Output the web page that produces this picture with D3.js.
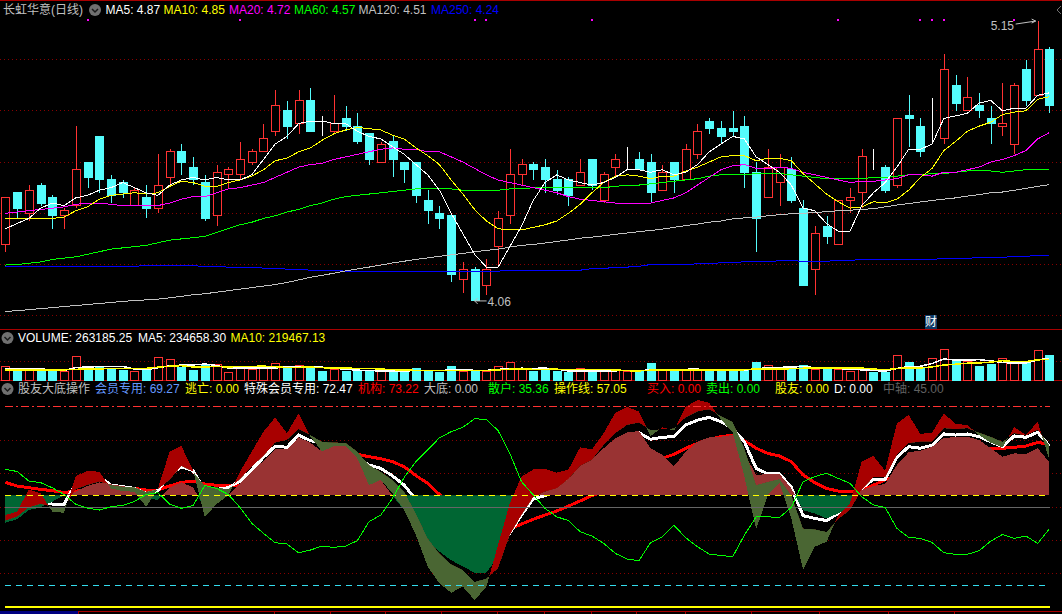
<!DOCTYPE html>
<html>
<head>
<meta charset="utf-8">
<script src="https://d3js.org/d3.v7.min.js"></script>
<style>
  html, body { margin: 0; padding: 0; background: #000; overflow: hidden; }
  text { font-family: "Liberation Sans", "Noto Sans CJK SC", sans-serif; font-size: 12px; }
</style>
</head>
<body>
<svg id="chart" width="1062" height="614" style="display:block"></svg>
<script>
// daily candles, one row of ten per line
var opens = [4.28,4.48,4.40,4.51,4.46,4.39,4.43,4.60,4.70,4.53,
  4.52,4.43,4.46,4.42,4.54,4.64,4.58,4.52,4.39,4.55,
  4.55,4.60,4.64,4.72,4.80,4.75,4.84,4.70,4.72,4.77,
  4.74,4.71,4.60,4.68,4.60,4.60,4.45,4.40,4.39,4.14,
  4.18,4.12,4.27,4.39,4.55,4.59,4.58,4.53,4.53,4.51,
  4.61,4.45,4.58,4.61,4.61,4.60,4.49,4.60,4.53,4.63,
  4.76,4.73,4.73,4.74,4.56,4.46,4.52,4.57,4.42,4.18,
  4.35,4.28,4.45,4.48,4.58,4.58,4.51,4.78,4.74,4.69,
  4.69,4.90,4.80,4.82,4.77,4.74,4.67,4.96,4.86,5.04];
var closes = [4.46,4.42,4.49,4.44,4.39,4.41,4.57,4.54,4.53,4.47,
  4.48,4.49,4.42,4.51,4.64,4.60,4.53,4.38,4.56,4.57,
  4.61,4.64,4.69,4.82,4.74,4.84,4.72,4.70,4.75,4.74,
  4.68,4.61,4.67,4.61,4.57,4.47,4.41,4.38,4.16,4.18,
  4.06,4.18,4.38,4.55,4.59,4.57,4.53,4.49,4.47,4.56,
  4.51,4.55,4.61,4.61,4.57,4.48,4.56,4.53,4.65,4.72,
  4.73,4.70,4.72,4.56,4.38,4.58,4.58,4.45,4.12,4.32,
  4.31,4.45,4.46,4.62,4.58,4.49,4.77,4.77,4.64,4.69,
  4.96,4.83,4.85,4.80,4.75,4.75,4.90,4.84,5.04,4.82];
var highs = [4.46,4.48,4.51,4.52,4.47,4.42,4.74,4.60,4.70,4.55,
  4.53,4.50,4.51,4.63,4.65,4.67,4.62,4.55,4.59,4.58,
  4.68,4.65,4.75,4.88,4.84,4.88,4.89,4.78,4.86,4.82,
  4.79,4.71,4.68,4.70,4.60,4.60,4.49,4.43,4.39,4.21,
  4.19,4.22,4.41,4.65,4.61,4.60,4.61,4.57,4.54,4.61,
  4.61,4.56,4.63,4.66,4.64,4.63,4.59,4.60,4.67,4.75,
  4.77,4.76,4.80,4.78,4.60,4.65,4.63,4.62,4.45,4.35,
  4.39,4.45,4.50,4.65,4.65,4.59,4.77,4.86,4.77,4.85,
  5.02,4.94,4.93,4.87,4.82,4.91,4.91,5.00,5.15,5.05];
var lows = [4.25,4.38,4.37,4.43,4.34,4.34,4.42,4.50,4.48,4.44,
  4.46,4.43,4.38,4.40,4.51,4.55,4.51,4.37,4.35,4.50,
  4.53,4.59,4.64,4.70,4.69,4.71,4.72,4.70,4.71,4.72,
  4.67,4.59,4.60,4.54,4.52,4.44,4.36,4.34,4.13,4.09,
  4.06,4.08,4.20,4.36,4.51,4.53,4.48,4.47,4.43,4.51,
  4.49,4.44,4.54,4.57,4.57,4.44,4.49,4.48,4.53,4.61,
  4.71,4.67,4.70,4.50,4.25,4.46,4.43,4.44,4.12,4.08,
  4.28,4.28,4.40,4.42,4.57,4.48,4.50,4.66,4.62,4.67,
  4.67,4.80,4.80,4.77,4.67,4.70,4.63,4.82,4.86,4.79];

// moving averages
var ma5 = [4.34,4.36,4.38,4.42,4.44,4.43,4.46,4.47,4.49,4.50,
  4.52,4.50,4.48,4.47,4.51,4.53,4.54,4.53,4.54,4.53,
  4.53,4.55,4.61,4.67,4.70,4.75,4.76,4.76,4.75,4.75,
  4.72,4.70,4.69,4.66,4.63,4.59,4.55,4.49,4.40,4.32,
  4.24,4.19,4.19,4.27,4.35,4.45,4.52,4.55,4.53,4.52,
  4.51,4.52,4.54,4.57,4.57,4.56,4.57,4.55,4.56,4.59,
  4.64,4.67,4.70,4.69,4.62,4.59,4.56,4.51,4.42,4.41,
  4.36,4.33,4.33,4.43,4.48,4.52,4.58,4.65,4.65,4.67,
  4.77,4.78,4.79,4.83,4.84,4.80,4.81,4.81,4.86,4.87];
var ma10 = [4.38,4.38,4.38,4.38,4.38,4.385,4.41,4.425,4.455,4.47,
  4.475,4.48,4.475,4.48,4.505,4.525,4.52,4.505,4.505,4.52,
  4.53,4.545,4.57,4.605,4.615,4.64,4.655,4.685,4.71,4.725,
  4.735,4.73,4.725,4.705,4.69,4.655,4.625,4.59,4.53,4.475,
  4.415,4.37,4.34,4.335,4.335,4.345,4.355,4.37,4.40,4.435,
  4.48,4.52,4.545,4.55,4.545,4.535,4.545,4.545,4.565,4.58,
  4.60,4.62,4.625,4.625,4.605,4.615,4.615,4.605,4.555,4.515,
  4.475,4.445,4.42,4.425,4.445,4.44,4.455,4.49,4.54,4.575,
  4.645,4.68,4.72,4.74,4.755,4.785,4.795,4.80,4.845,4.855];
var ma20 = [4.40,4.405,4.41,4.415,4.42,4.425,4.435,4.44,4.44,4.435,
  4.43,4.43,4.43,4.43,4.44,4.455,4.465,4.465,4.48,4.495,
  4.50,4.51,4.52,4.54,4.56,4.58,4.59,4.595,4.61,4.62,
  4.63,4.64,4.65,4.655,4.65,4.65,4.64,4.64,4.62,4.60,
  4.575,4.55,4.53,4.52,4.51,4.50,4.49,4.48,4.465,4.455,
  4.45,4.445,4.44,4.44,4.44,4.44,4.45,4.46,4.48,4.51,
  4.54,4.57,4.585,4.59,4.575,4.575,4.58,4.575,4.56,4.55,
  4.54,4.53,4.52,4.525,4.525,4.53,4.535,4.55,4.55,4.545,
  4.56,4.56,4.57,4.58,4.60,4.61,4.625,4.645,4.69,4.715];
var ma60 = [4.198,4.20,4.205,4.21,4.22,4.225,4.23,4.24,4.25,4.26,
  4.265,4.27,4.275,4.285,4.295,4.30,4.305,4.31,4.325,4.34,
  4.355,4.365,4.38,4.39,4.405,4.415,4.43,4.44,4.455,4.465,
  4.47,4.475,4.48,4.485,4.49,4.495,4.495,4.495,4.495,4.49,
  4.49,4.49,4.49,4.495,4.495,4.50,4.50,4.50,4.50,4.50,
  4.50,4.50,4.505,4.51,4.51,4.515,4.52,4.525,4.53,4.535,
  4.545,4.55,4.55,4.55,4.555,4.555,4.555,4.55,4.545,4.54,
  4.535,4.535,4.535,4.535,4.54,4.54,4.545,4.55,4.55,4.555,
  4.555,4.56,4.565,4.565,4.565,4.56,4.565,4.57,4.57,4.57];
var ma120 = [4.017,4.02,4.024,4.028,4.032,4.036,4.04,4.044,4.048,4.052,
  4.056,4.06,4.062,4.065,4.07,4.076,4.082,4.086,4.092,4.098,
  4.104,4.11,4.116,4.122,4.13,4.14,4.15,4.158,4.166,4.175,
  4.183,4.19,4.198,4.206,4.213,4.22,4.226,4.232,4.238,4.243,
  4.25,4.255,4.26,4.268,4.275,4.278,4.284,4.29,4.296,4.303,
  4.307,4.312,4.318,4.323,4.328,4.333,4.338,4.345,4.352,4.358,
  4.365,4.37,4.378,4.382,4.385,4.39,4.395,4.398,4.40,4.403,
  4.406,4.41,4.412,4.415,4.418,4.425,4.432,4.438,4.444,4.45,
  4.455,4.46,4.467,4.473,4.48,4.483,4.49,4.497,4.505,4.512];
var ma250 = [4.192,4.192,4.192,4.192,4.192,4.192,4.193,4.193,4.193,4.193,
  4.193,4.193,4.196,4.196,4.196,4.196,4.196,4.192,4.192,4.19,
  4.19,4.19,4.186,4.186,4.182,4.182,4.178,4.178,4.178,4.174,
  4.174,4.174,4.174,4.174,4.174,4.174,4.174,4.174,4.174,4.174,
  4.174,4.174,4.174,4.178,4.178,4.178,4.178,4.178,4.178,4.178,
  4.184,4.184,4.19,4.19,4.193,4.20,4.20,4.20,4.20,4.203,
  4.203,4.207,4.207,4.211,4.211,4.211,4.215,4.215,4.213,4.213,
  4.213,4.216,4.216,4.22,4.22,4.22,4.22,4.22,4.22,4.22,
  4.224,4.224,4.224,4.228,4.228,4.228,4.232,4.232,4.236,4.236];

// candles that carry the small magenta mark along the top
var markedDays = [7,20,40,41,50,71,78,79,80,86];
var priceTicks = [4.0,4.2,4.4,4.6,4.8,5.0];

// volume panel, in thousands
var volumes = [144,98,116,109,112,95,249,144,133,116,
  105,95,116,239,218,140,105,165,165,81,
  144,116,140,175,140,154,133,98,116,95,
  102,102,95,105,98,126,102,88,147,98,
  102,95,144,189,116,98,105,95,84,123,
  102,98,102,98,98,179,109,95,109,109,
  109,102,109,109,189,154,133,116,154,116,
  123,116,91,116,84,84,260,189,133,228,
  323,200,196,147,168,228,186,193,312,263.185];
var volMa5 = [123,120,122,120,116,106,136,142,147,147,
  149,119,113,134,155,162,164,173,159,131,
  132,134,129,131,143,145,148,140,128,119,
  109,103,102,100,100,105,105,104,112,112,
  107,106,117,126,129,128,130,121,100,101,
  102,100,102,105,100,115,117,116,118,120,
  106,105,108,108,124,133,139,140,149,135,
  128,125,120,112,106,98,127,147,150,179,
  227,215,216,219,207,188,185,184,217,234.658];
var volMa10 = [112,112,112,112,112,112,118,120,122,126,
  128,128,128,140,151,156,142,143,147,143,
  147,149,151,145,137,139,141,135,130,131,
  127,126,121,114,110,107,104,103,106,106,
  106,106,111,119,121,118,118,119,113,115,
  115,115,112,103,101,109,109,109,112,110,
  111,111,112,113,122,120,122,124,129,130,
  131,132,130,131,121,113,126,134,131,143,
  163,171,182,185,193,208,200,200,218,219.467];
var volTicks = [200];

// indicator panel: fast and slow make the red / olive band
var fastLine = [41.5,43.0,53.0,51.2,43.0,42.5,59.0,61.2,60.9,53.4,
  52.2,51.9,45.2,53.4,69.9,72.4,61.6,40.7,46.4,50.4,
  60.9,69.9,78.8,85.2,78.1,87.0,76.6,69.9,72.4,72.4,
  66.9,54.9,57.2,51.2,43.7,32.5,18.4,10.9,6.7,9.4,
  3.4,9.4,28.1,46.7,58.7,61.9,62.1,60.5,61.9,71.8,
  70.9,78.1,87.3,90.0,87.8,76.9,80.8,79.3,90.0,93.0,
  91.8,84.3,78.4,58.7,35.1,50.4,55.7,40.0,16.9,27.3,
  29.5,41.5,46.7,65.4,67.9,61.3,82.5,86.3,77.8,78.4,
  87.0,82.3,81.8,77.3,73.9,71.8,80.8,77.3,83.3,66.1];
var slowLine = [38.9,40.7,44.9,46.4,45.2,44.9,53.0,54.9,56.4,54.9,
  54.2,53.9,51.9,53.0,57.2,63.4,60.9,54.5,53.9,53.0,
  57.5,63.1,67.9,73.9,75.1,79.9,77.3,74.3,74.0,73.9,
  69.9,63.9,60.9,57.2,51.9,42.2,31.0,24.3,19.5,16.9,
  11.6,13.1,17.6,32.5,41.5,49.4,51.9,53.4,57.5,63.4,
  66.1,72.8,78.1,81.8,82.8,79.6,79.9,80.3,85.2,87.8,
  88.8,85.8,83.3,71.4,54.9,56.4,57.6,50.4,35.5,35.1,
  34.0,39.6,43.7,52.7,58.4,58.4,68.4,73.6,74.3,74.3,
  80.3,79.9,80.3,78.4,76.6,74.3,78.1,77.0,79.6,72.8];
var memberArea = [38.1,39.6,43.7,44.9,47.5,50.2,51.9,54.5,56.1,55.2,
  54.5,53.4,49.4,48.2,53.9,56.1,53.9,44.5,47.0,50.2,
  55.7,60.9,65.8,70.9,70.9,76.3,73.9,69.9,72.4,72.4,
  69.1,54.9,57.2,50.2,43.7,34.0,30.3,25.1,21.3,18.4,
  15.7,15.7,22.8,39.3,48.2,49.7,51.9,53.9,57.5,63.4,
  66.1,71.4,75.8,78.5,79.1,71.4,68.4,63.4,69.9,74.3,
  76.3,76.6,77.3,69.1,59.4,59.9,59.9,53.4,43.7,42.2,
  40.0,42.2,45.2,52.7,54.5,55.4,63.9,69.6,70.3,72.1,
  76.1,76.3,76.6,75.1,71.4,67.6,69.1,68.8,71.4,65.1];
var specialLine = [43.4,44.5,46.0,47.0,46.4,46.4,55.7,57.9,58.7,54.9,
  54.2,53.4,51.2,52.4,59.4,63.1,61.3,52.4,53.0,53.7,
  56.7,61.9,67.3,72.4,71.8,77.3,74.8,73.6,71.4,69.9,
  67.3,63.9,62.4,59.0,54.9,48.2,33.0,28.0,24.0,21.0,
  18.0,18.0,26.0,33.3,41.5,48.7,50.2,52.7,57.2,60.9,
  64.6,68.4,72.8,77.3,78.4,75.4,76.3,76.6,81.8,84.0,
  85.2,83.3,80.3,74.3,62.4,59.9,59.9,53.9,41.2,40.0,
  39.0,42.2,48.2,53.4,57.6,57.5,67.3,72.1,71.4,72.8,
  77.8,77.3,77.8,76.6,74.3,72.1,76.9,76.3,78.5,72.47];
var institutionLine = [56.1,54.5,53.7,53.0,52.4,51.6,52.2,52.7,53.0,53.4,
  53.6,53.4,52.7,52.7,54.5,56.1,56.7,55.4,54.8,54.5,
  54.9,57.2,60.2,63.1,65.4,67.3,68.7,69.4,69.9,69.4,
  68.7,67.6,66.7,65.4,63.1,59.1,55.7,50.7,45.2,41.5,
  37.8,34.0,33.3,35.1,37.5,39.6,41.5,43.3,45.5,47.8,
  50.2,51.9,54.9,58.4,61.6,63.9,66.9,68.7,71.4,73.6,
  75.4,76.6,77.3,74.8,71.4,69.1,67.9,65.4,59.4,56.0,
  53.4,52.2,51.9,52.7,54.9,57.2,59.4,63.1,66.1,68.4,
  69.9,70.6,71.1,71.4,71.4,71.4,71.8,72.4,74.0,73.22];
var retailLine = [61.9,61.0,56.7,56.0,53.7,50.7,46.3,44.6,43.7,45.2,
  45.8,47.6,50.7,51.5,46.4,44.5,45.7,54.8,53.4,50.7,
  44.9,37.8,33.3,29.1,28.5,24.6,25.8,27.6,27.0,27.6,
  30.0,38.5,41.5,49.0,58.4,65.4,70.6,76.1,78.8,80.8,
  84.6,84.3,79.3,69.1,56.4,50.5,44.5,40.7,39.0,34.0,
  32.1,28.8,24.3,21.8,21.0,29.1,31.8,36.9,31.3,27.3,
  24.0,23.4,22.8,32.5,40.7,40.7,40.4,44.9,56.4,58.7,
  60.2,57.9,55.7,49.7,46.0,44.9,35.5,31.5,31.0,29.2,
  24.6,23.9,23.9,25.5,29.8,32.8,31.0,32.1,28.8,35.36];
var indicatorTicks = [15.3,30,45,60,75];
var zeroLevel = 0, midLevel = 45, yellowLevel = 50.3, upperLevel = 90, lowerLevel = 10;

// month marks on the time strip, as candle positions
var monthTicks = [6.2,22.9,27.7,32.4,37.1,41.9,45.9,49.9,53.8,57.9,63.6,69.4,75.2,80.9];

// header texts
var stockTitle = "长虹华意(日线)";
var maLabels = ["MA5: 4.87","MA10: 4.85","MA20: 4.72","MA60: 4.57","MA120: 4.51","MA250: 4.24"];
var maColors = ["#ffffff","#ffff00","#ff00ff","#00ff00","#c0c0c0","#0000ff"];
var volLabels = ["VOLUME: 263185.25","MA5: 234658.30","MA10: 219467.13"];
var volColors = ["#ffffff","#ffffff","#ffff00"];
var indicatorLabels = ["股友大底操作","会员专用: 69.27","逃亡: 0.00","特殊会员专用: 72.47","机构: 73.22","大底: 0.00",
  "散户: 35.36","操作线: 57.05","买入: 0.00","卖出: 0.00","股友: 0.00","D: 0.00","中轴: 45.00"];
var indicatorColors = ["#c0c0c0","#6699ff","#ffff00","#ffffff","#ff0000","#c0c0c0",
  "#00ff00","#ffff00","#ff0000","#00ff00","#ffff00","#ffffff","#606060"];

var svg = d3.select("#chart");
var RED = "#ff3232", CYAN = "#54fcfc", GRID = "#880000", LINE_RED = "#a80000";

// all three panels share the same day scale
var xDay = d3.scaleLinear().domain([0, 89]).range([5.4, 1049.4]);
var yPrice = d3.scaleLinear().domain([4, 5]).range([315.8, 59.5]);
var yVol = d3.scaleLinear().domain([0, 200]).range([380.5, 361.5]);
var yInd = d3.scaleLinear().domain([45, 90]).range([507.2, 406.7]);
var days = d3.range(closes.length);

function px(i) { return Math.round(xDay(i)) + 0.5; }

// dotted grid comes from axes with long ticks, snapped to one pixel row
function dottedGrid(scale, ticks) {
  var g = svg.append("g")
    .call(d3.axisLeft(scale).offset(0).tickValues(ticks).tickSize(-1062).tickFormat(""));
  g.select(".domain").remove();
  g.selectAll(".tick")
    .attr("transform", function(d) { return "translate(0," + (Math.floor(scale(d)) + 0.5) + ")"; });
  g.selectAll(".tick line")
    .attr("stroke", GRID)
    .attr("stroke-dasharray", "1,3")
    .attr("shape-rendering", "crispEdges");
}
dottedGrid(yPrice, priceTicks);
dottedGrid(yVol, volTicks);
dottedGrid(yInd, indicatorTicks);

// panel borders
[0.5, 329.5, 380.5].forEach(function(y) {
  svg.append("line").attr("x1", 0).attr("x2", 1062).attr("y1", y).attr("y2", y)
    .attr("stroke", LINE_RED).attr("shape-rendering", "crispEdges");
});

// candles
var candle = svg.append("g").attr("shape-rendering", "crispEdges")
  .selectAll("g").data(days).join("g");

function candleColor(i) {
  if (opens[i] == closes[i]) return "#ffffff";
  return closes[i] > opens[i] ? RED : CYAN;
}

candle.append("line")
  .attr("x1", px).attr("x2", px)
  .attr("y1", function(i) { return yPrice(highs[i]); })
  .attr("y2", function(i) { return yPrice(lows[i]); })
  .attr("stroke", candleColor);

candle.append("rect")
  .attr("x", function(i) { return px(i) - 4; })
  .attr("width", 8)
  .attr("y", function(i) { return yPrice(Math.max(opens[i], closes[i])); })
  .attr("height", function(i) { return Math.abs(yPrice(opens[i]) - yPrice(closes[i])); })
  .attr("fill", function(i) { return closes[i] > opens[i] ? "#000" : candleColor(i); })
  .attr("stroke", candleColor);

// moving averages
var maLine = d3.line().x(function(d, i) { return xDay(i); }).y(function(d) { return yPrice(d); });
[[ma250, "#0000ff"], [ma120, "#c0c0c0"], [ma60, "#00ff00"], [ma20, "#ff00ff"], [ma10, "#ffff00"], [ma5, "#ffffff"]]
  .forEach(function(m) {
    svg.append("path").attr("d", maLine(m[0])).attr("fill", "none")
      .attr("stroke", m[1]).attr("shape-rendering", "crispEdges");
  });

// magenta marks
svg.append("g").selectAll("rect").data(markedDays).join("rect")
  .attr("x", function(i) { return Math.round(xDay(i)) - 1; })
  .attr("y", 19).attr("width", 2).attr("height", 2).attr("fill", "#ff00ff");

// high and low notes
svg.append("text").attr("x", xDay(88) - 47).attr("y", yPrice(5.15) + 9).attr("fill", "#c0c0c0").text("5.15");
svg.append("path")
  .attr("d", "M" + (xDay(88) - 22) + "," + (yPrice(5.15) + 3) + "L" + (xDay(88) - 2) + "," + yPrice(5.15)
    + "m-4,-2l4,2l-4,2")
  .attr("fill", "none").attr("stroke", "#c0c0c0");
svg.append("text").attr("x", xDay(40) + 13).attr("y", yPrice(4.06) + 6).attr("fill", "#c0c0c0").text("4.06");
svg.append("path")
  .attr("d", "M" + (xDay(40) + 12) + "," + (yPrice(4.06) + 0.5) + "H" + xDay(40)
    + "m3,-3l-3,3l3,3")
  .attr("fill", "none").attr("stroke", "#c0c0c0");

// finance badge
svg.append("rect").attr("x", 925).attr("y", 315).attr("width", 12).attr("height", 14).attr("fill", "#0e3a66");
svg.append("text").attr("x", 931).attr("y", 326).attr("text-anchor", "middle").attr("fill", "#fff").text("财");

// volume bars, a flat candle takes the colour of its move from the day before
function volumeUp(i) {
  if (closes[i] == opens[i]) return i == 0 || closes[i] >= closes[i - 1];
  return closes[i] > opens[i];
}
svg.append("g").attr("shape-rendering", "crispEdges")
  .selectAll("rect").data(days).join("rect")
  .attr("x", function(i) { return px(i) - 4; })
  .attr("width", 8)
  .attr("y", function(i) { return yVol(volumes[i]); })
  .attr("height", function(i) { return yVol(0) - yVol(volumes[i]); })
  .attr("fill", function(i) { return volumeUp(i) ? "#000" : CYAN; })
  .attr("stroke", function(i) { return volumeUp(i) ? RED : CYAN; });

var volLine = d3.line().x(function(d, i) { return xDay(i); }).y(function(d) { return yVol(d); });
[[volMa5, "#ffffff"], [volMa10, "#ffff00"]].forEach(function(m) {
  svg.append("path").attr("d", volLine(m[0])).attr("fill", "none")
    .attr("stroke", m[1]).attr("stroke-width", 1.5).attr("shape-rendering", "crispEdges");
});

// indicator panel
var indLine = d3.line().x(function(d, i) { return xDay(i); }).y(function(d) { return yInd(d); });
var panelTop = 381, panelBottom = 611;

function clipRegion(id, area) {
  svg.append("clipPath").attr("id", id).append("path").attr("d", area);
}

svg.append("path").attr("d", indLine(institutionLine)).attr("fill", "none")
  .attr("stroke", "#ff0000").attr("stroke-width", 3).attr("shape-rendering", "crispEdges");
svg.append("path").attr("d", indLine(specialLine)).attr("fill", "none")
  .attr("stroke", "#ffffff").attr("stroke-width", 3).attr("shape-rendering", "crispEdges");

// member area: brown over the 50 line, green under it
var memberFill = d3.area().x(function(d, i) { return xDay(i); })
  .y0(yInd(yellowLevel)).y1(function(d) { return yInd(d); });
svg.append("clipPath").attr("id", "over50").append("rect")
  .attr("x", 0).attr("width", 1062).attr("y", panelTop).attr("height", yInd(yellowLevel) - panelTop);
svg.append("clipPath").attr("id", "under50").append("rect")
  .attr("x", 0).attr("width", 1062).attr("y", yInd(yellowLevel)).attr("height", panelBottom - yInd(yellowLevel));
svg.append("path").attr("d", memberFill(memberArea)).attr("fill", "#993333")
  .attr("clip-path", "url(#over50)").attr("shape-rendering", "crispEdges");
svg.append("path").attr("d", memberFill(memberArea)).attr("fill", "#006633")
  .attr("clip-path", "url(#under50)").attr("shape-rendering", "crispEdges");

// band: red while fast is above slow, olive while it is below
var overSlow = d3.area().x(function(d, i) { return xDay(i); })
  .y0(panelTop - 20).y1(function(d) { return yInd(d); });
var underSlow = d3.area().x(function(d, i) { return xDay(i); })
  .y0(panelBottom).y1(function(d) { return yInd(d); });
clipRegion("overSlow", overSlow(slowLine));
clipRegion("underSlow", underSlow(slowLine));

var band = d3.area().x(function(i) { return xDay(i); })
  .y0(function(i) { return yInd(slowLine[i]); })
  .y1(function(i) { return yInd(fastLine[i]); });
svg.append("path").attr("d", band(days)).attr("fill", "#a80000")
  .attr("clip-path", "url(#overSlow)").attr("shape-rendering", "crispEdges");
svg.append("path").attr("d", band(days)).attr("fill", "#4a6633")
  .attr("clip-path", "url(#underSlow)").attr("shape-rendering", "crispEdges");

// level lines
function levelLine(v, color, dash, width, x2) {
  var y = Math.floor(yInd(v)) + (width == 1 ? 0.5 : 0);
  svg.append("line").attr("x1", xDay(0)).attr("x2", x2)
    .attr("y1", y).attr("y2", y)
    .attr("stroke", color).attr("stroke-width", width)
    .attr("stroke-dasharray", dash).attr("shape-rendering", "crispEdges");
}
levelLine(midLevel, "#666666", null, 1, 1050);
levelLine(yellowLevel, "#ffff00", "6,5", 1, 1050);
levelLine(lowerLevel, "#33ddee", "6,5", 1, 1050);
levelLine(upperLevel, "#ff3232", "8,3,2,3", 1, 1050);
levelLine(zeroLevel, "#ffff00", null, 2, 1050);

svg.append("path").attr("d", indLine(retailLine)).attr("fill", "none")
  .attr("stroke", "#00ff00").attr("shape-rendering", "crispEdges");

// time strip at the very bottom
svg.append("rect").attr("x", 0).attr("y", 611).attr("width", 78).attr("height", 3).attr("fill", "#000080");
svg.append("line").attr("x1", 78).attr("x2", 1062).attr("y1", 611.5).attr("y2", 611.5)
  .attr("stroke", LINE_RED).attr("shape-rendering", "crispEdges");
var timeAxis = svg.append("g").attr("transform", "translate(0,611)")
  .call(d3.axisBottom(xDay).tickValues(monthTicks).tickSize(3).tickFormat(""));
timeAxis.select(".domain").remove();
timeAxis.selectAll(".tick line").attr("stroke", LINE_RED).attr("shape-rendering", "crispEdges");

// header rows
function headerRow(labels, colors, xs, y) {
  svg.append("g").selectAll("text").data(labels).join("text")
    .attr("x", function(d, i) { return xs[i]; })
    .attr("y", y)
    .attr("fill", function(d, i) { return colors[i]; })
    .text(function(d) { return d; });
}
svg.append("text").attr("x", 3).attr("y", 14).attr("fill", "#c0c0c0").text(stockTitle);
headerRow(maLabels, maColors, [105.5, 163.5, 229, 294, 358.5, 431], 14);
headerRow(volLabels, volColors, [18, 138, 230.5], 342);
headerRow(indicatorLabels, indicatorColors, [18, 95, 185, 244, 358, 424, 488, 554, 647, 706, 775, 834, 883], 393);

// little round drop-down buttons
[[95, 10], [7.5, 338], [7.5, 389]].forEach(function(b) {
  svg.append("circle").attr("cx", b[0]).attr("cy", b[1]).attr("r", 6).attr("fill", "#707070");
  svg.append("path").attr("d", "M" + (b[0] - 3) + "," + (b[1] - 1) + "l3,3l3,-3")
    .attr("fill", "none").attr("stroke", "#1a1a1a").attr("stroke-width", 1.5);
});
svg.append("path").attr("d", "M1061,6l-4,4l4,4").attr("fill", "none").attr("stroke", "#707070");
</script>
</body>
</html>
